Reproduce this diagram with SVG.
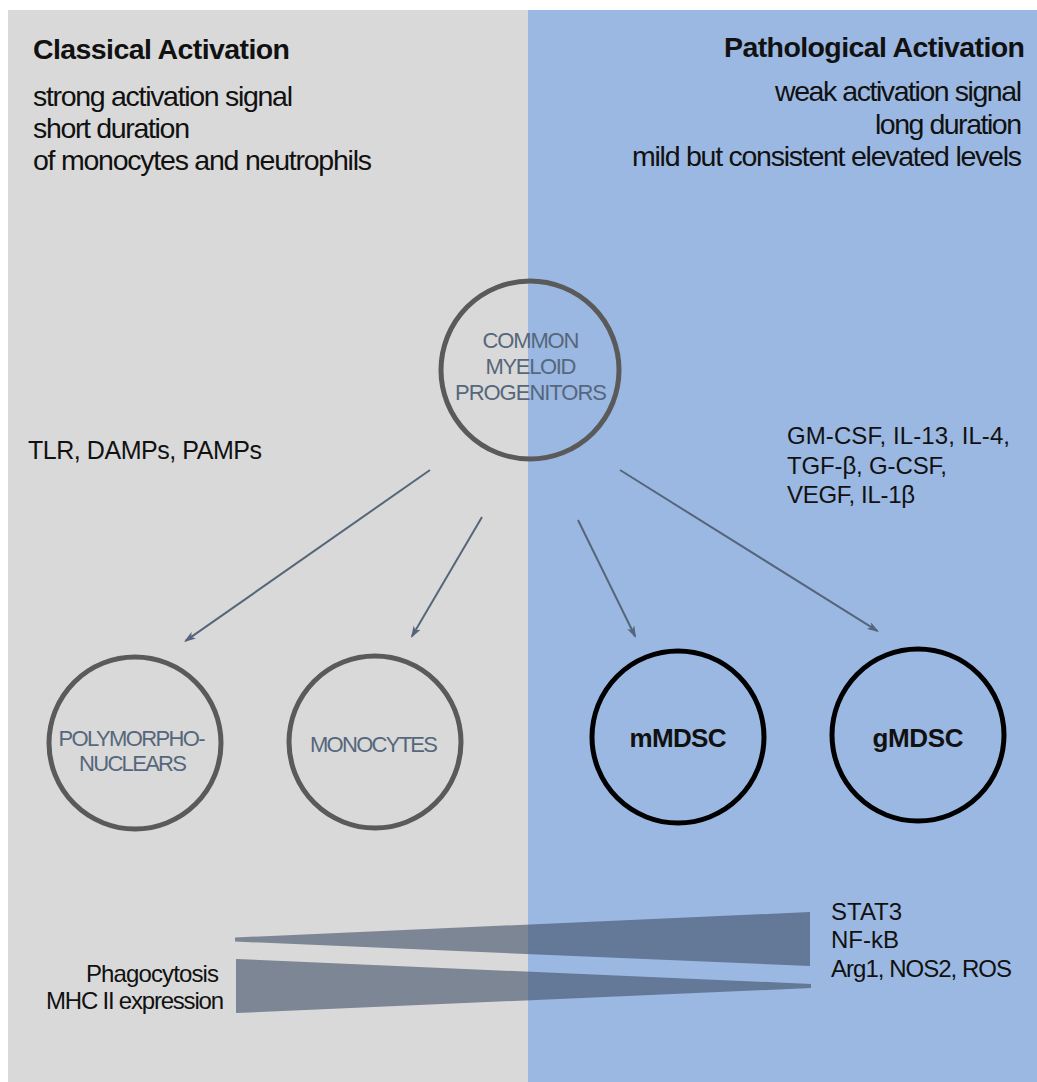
<svg xmlns="http://www.w3.org/2000/svg" width="1037" height="1082" viewBox="0 0 1037 1082">
<defs>
<style>
.t{font-family:"Liberation Sans",Arial,sans-serif;fill:#111;}
.b{font-weight:bold;}
.h{font-size:28.5px;}
.s{font-size:24px;}
.cl{font-family:"Liberation Sans",Arial,sans-serif;font-size:22px;fill:#56677c;text-anchor:middle;}
.cg{fill:none;stroke:#5a5a5a;stroke-width:5;}
.ck{fill:none;stroke:#000;stroke-width:5;}
.ar{stroke:#56667a;stroke-width:2;fill:none;marker-end:url(#ah);}
.wg{fill:#3d4f66;fill-opacity:0.6;}
</style>
<marker id="ah" viewBox="0 0 12 8" refX="10" refY="4" markerWidth="12" markerHeight="8" markerUnits="userSpaceOnUse" orient="auto">
<path d="M0,0 L12,4 L0,8 L3,4 z" fill="#56667a"/>
</marker>
</defs>
<rect x="0" y="0" width="1037" height="1082" fill="#ffffff"/>
<rect x="8" y="10" width="520" height="1072" fill="#d9d9d9"/>
<rect x="528" y="10" width="509" height="1072" fill="#9bb8e2"/>

<text class="t b" x="33" y="59" font-size="28.5" textLength="257">Classical Activation</text>
<text class="t h" x="33" y="106" textLength="260">strong activation signal</text>
<text class="t h" x="33" y="138" textLength="157">short duration</text>
<text class="t h" x="33" y="170" textLength="339">of monocytes and neutrophils</text>

<text class="t b" x="1025" y="57" font-size="28.5" text-anchor="end" textLength="301">Pathological Activation</text>
<text class="t h" x="1022" y="101" text-anchor="end" textLength="247">weak activation signal</text>
<text class="t h" x="1022" y="134" text-anchor="end" textLength="147">long duration</text>
<text class="t h" x="1022" y="166" text-anchor="end" textLength="390">mild but consistent elevated levels</text>

<text class="t" x="28" y="459" font-size="25" textLength="234">TLR, DAMPs, PAMPs</text>
<text class="t s" x="787" y="444" textLength="223">GM-CSF, IL-13, IL-4,</text>
<text class="t s" x="787" y="474" textLength="160">TGF-β, G-CSF,</text>
<text class="t s" x="787" y="503" textLength="128">VEGF, IL-1β</text>

<g id="node-cmp">
<circle class="cg" cx="530" cy="370" r="89"/>
<text class="cl" x="531" y="348" textLength="97">COMMON</text>
<text class="cl" x="531" y="374" textLength="91">MYELOID</text>
<text class="cl" x="531" y="400" textLength="152">PROGENITORS</text>
</g>
<g id="node-pmn">
<circle class="cg" cx="135" cy="743" r="86"/>
<text class="cl" x="132" y="746" textLength="147">POLYMORPHO-</text>
<text class="cl" x="133" y="771" textLength="108">NUCLEARS</text>
</g>
<g id="node-mono">
<circle class="cg" cx="375" cy="742" r="86"/>
<text class="cl" x="374" y="752" textLength="128">MONOCYTES</text>
</g>
<g id="node-mmdsc">
<circle class="ck" cx="678" cy="737" r="86"/>
<text class="t b" x="678" y="747" font-size="26" text-anchor="middle" textLength="97">mMDSC</text>
</g>
<g id="node-gmdsc">
<circle class="ck" cx="918" cy="735" r="86"/>
<text class="t b" x="918" y="747" font-size="26" text-anchor="middle" textLength="91">gMDSC</text>
</g>

<g id="connectors">
<line class="ar" x1="430" y1="470" x2="185.6" y2="640.9"/>
<line class="ar" x1="482" y1="517" x2="412" y2="636.3"/>
<line class="ar" x1="578" y1="520" x2="635.1" y2="636.2"/>
<line class="ar" x1="620" y1="470" x2="877.3" y2="630.9"/>
</g>

<polygon class="wg" points="235,937.5 810,912 810,966 235,941.5"/>
<polygon class="wg" points="236,959 811,984 811,988 236,1013"/>

<text class="t s" x="219" y="982" text-anchor="end" textLength="133">Phagocytosis</text>
<text class="t s" x="224" y="1009" text-anchor="end" textLength="178">MHC II expression</text>
<text class="t s" x="831" y="920">STAT3</text>
<text class="t s" x="831" y="948">NF-kB</text>
<text class="t s" x="831" y="977" textLength="181">Arg1, NOS2, ROS</text>
</svg>
